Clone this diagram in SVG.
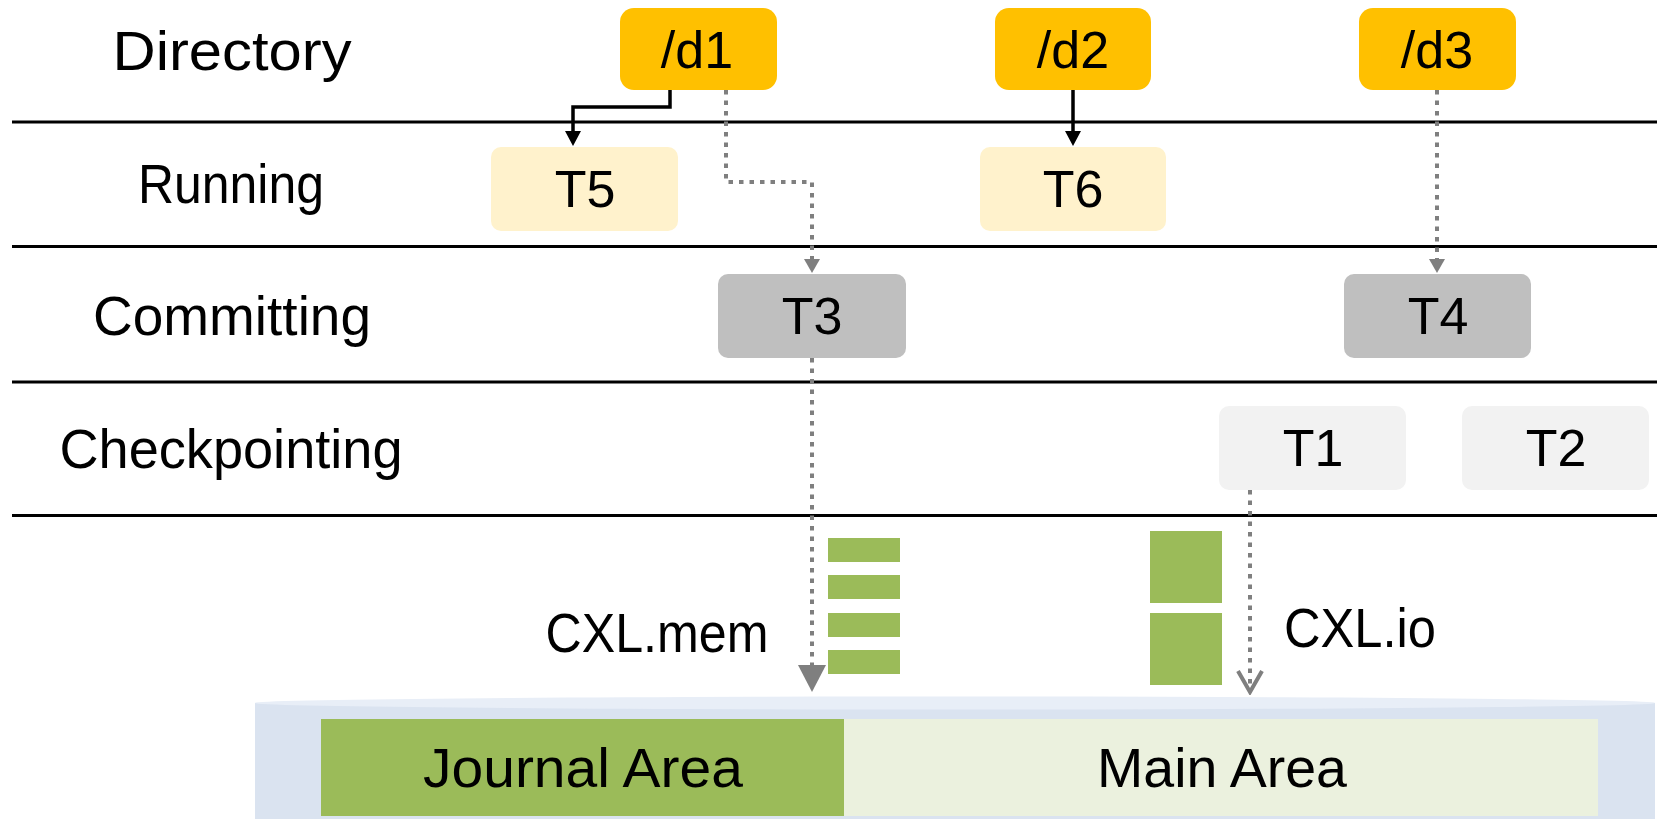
<svg xmlns="http://www.w3.org/2000/svg" width="1657" height="819" viewBox="0 0 1657 819">
  <style>
    text { font-family: "Liberation Sans", Arial, sans-serif; fill: #000; }
    .lbl { font-size: 56px; text-anchor: middle; }
    .nt { font-size: 52px; text-anchor: middle; }
    .sep { stroke: #000; stroke-width: 3; }
    .dir { fill: #FFC000; }
    .run { fill: #FFF2CC; }
    .com { fill: #BFBFBF; }
    .chk { fill: #F2F2F2; }
    .blk { fill: #9BBB59; }
    .solid { fill: none; stroke: #000; stroke-width: 3.5; }
    .dot { fill: none; stroke: #7F7F7F; stroke-width: 4; stroke-dasharray: 4.5 6; }
  </style>
  <defs>
    <marker id="arrowBlack" markerUnits="userSpaceOnUse" viewBox="0 0 15 16" markerWidth="15" markerHeight="16" refX="1" refY="8" orient="auto">
      <path d="M0,0 L15,8 L0,16 z" fill="#000"/>
    </marker>
    <marker id="arrowGray" markerUnits="userSpaceOnUse" viewBox="0 0 14 16" markerWidth="14" markerHeight="16" refX="1" refY="8" orient="auto">
      <path d="M0,0 L14,8 L0,16 z" fill="#7F7F7F"/>
    </marker>
    <marker id="arrowGrayBig" markerUnits="userSpaceOnUse" viewBox="0 0 27 28" markerWidth="27" markerHeight="28" refX="1" refY="14" orient="auto">
      <path d="M0,0 L27,14 L0,28 z" fill="#7F7F7F"/>
    </marker>
    <marker id="arrowOpen" markerUnits="userSpaceOnUse" viewBox="-3 -3 27 30" markerWidth="27" markerHeight="30" refX="21" refY="12" orient="auto">
      <path d="M0,0 L21,12 L0,24" fill="none" stroke="#7F7F7F" stroke-width="4" stroke-dasharray="none"/>
    </marker>
  </defs>

  <!-- lane separators -->
  <g id="lanes">
    <line class="sep" x1="12" y1="122" x2="1657" y2="122"/>
    <line class="sep" x1="12" y1="246.5" x2="1657" y2="246.5"/>
    <line class="sep" x1="12" y1="382" x2="1657" y2="382"/>
    <line class="sep" x1="12" y1="515.5" x2="1657" y2="515.5"/>
  </g>

  <!-- lane titles -->
  <g id="lane-labels">
    <text class="lbl" x="232" y="70" textLength="239" lengthAdjust="spacingAndGlyphs">Directory</text>
    <text class="lbl" x="231" y="203" textLength="186" lengthAdjust="spacingAndGlyphs">Running</text>
    <text class="lbl" x="232" y="335" textLength="278" lengthAdjust="spacingAndGlyphs">Committing</text>
    <text class="lbl" x="231" y="468" textLength="343" lengthAdjust="spacingAndGlyphs">Checkpointing</text>
  </g>

  <!-- storage device -->
  <g id="device">
    <rect x="255" y="703" width="1400" height="120" fill="#DAE3F0"/>
    <ellipse cx="955" cy="703" rx="700" ry="6.5" fill="#E8EEF7"/>
  </g>
  <g id="journal-area">
    <rect x="321" y="719" width="523" height="97" class="blk"/>
    <text class="lbl" x="583" y="787" textLength="320" lengthAdjust="spacingAndGlyphs">Journal Area</text>
  </g>
  <g id="main-area">
    <rect x="844" y="719" width="754" height="97" fill="#EBF1DE"/>
    <text class="lbl" x="1222" y="787" textLength="250" lengthAdjust="spacingAndGlyphs">Main Area</text>
  </g>

  <!-- directories -->
  <g id="d1">
    <rect class="dir" x="620" y="8" width="157" height="82" rx="14"/>
    <text class="nt" x="697" y="68">/d1</text>
  </g>
  <g id="d2">
    <rect class="dir" x="995" y="8" width="156" height="82" rx="14"/>
    <text class="nt" x="1073" y="68">/d2</text>
  </g>
  <g id="d3">
    <rect class="dir" x="1359" y="8" width="157" height="82" rx="14"/>
    <text class="nt" x="1437" y="68">/d3</text>
  </g>

  <!-- transactions -->
  <g id="T5">
    <rect class="run" x="491" y="147" width="187" height="84" rx="10"/>
    <text class="nt" x="585" y="207">T5</text>
  </g>
  <g id="T6">
    <rect class="run" x="980" y="147" width="186" height="84" rx="10"/>
    <text class="nt" x="1073" y="207">T6</text>
  </g>
  <g id="T3">
    <rect class="com" x="718" y="274" width="188" height="84" rx="10"/>
    <text class="nt" x="812" y="334">T3</text>
  </g>
  <g id="T4">
    <rect class="com" x="1344" y="274" width="187" height="84" rx="10"/>
    <text class="nt" x="1438" y="334">T4</text>
  </g>
  <g id="T1">
    <rect class="chk" x="1219" y="406" width="187" height="84" rx="10"/>
    <text class="nt" x="1313" y="466">T1</text>
  </g>
  <g id="T2">
    <rect class="chk" x="1462" y="406" width="187" height="84" rx="10"/>
    <text class="nt" x="1556" y="466">T2</text>
  </g>

  <!-- in-flight data blocks -->
  <g id="mem-blocks">
    <rect class="blk" x="828" y="538" width="72" height="24"/>
    <rect class="blk" x="828" y="575" width="72" height="24"/>
    <rect class="blk" x="828" y="613" width="72" height="24"/>
    <rect class="blk" x="828" y="650" width="72" height="24"/>
    <text class="lbl" x="657" y="652" textLength="223" lengthAdjust="spacingAndGlyphs">CXL.mem</text>
  </g>
  <g id="io-blocks">
    <rect class="blk" x="1150" y="531" width="72" height="72"/>
    <rect class="blk" x="1150" y="613" width="72" height="72"/>
    <text class="lbl" x="1360" y="647" textLength="152" lengthAdjust="spacingAndGlyphs">CXL.io</text>
  </g>

  <!-- connectors -->
  <g id="connectors">
    <path class="solid" d="M670,90 V107 H573 V132" marker-end="url(#arrowBlack)"/>
    <path class="solid" d="M1073,90 V132" marker-end="url(#arrowBlack)"/>
    <path class="dot" d="M726,90 V182 H812 V260" marker-end="url(#arrowGray)"/>
    <path class="dot" d="M1437,90 V260" marker-end="url(#arrowGray)"/>
    <path class="dot" d="M812,358 V666" marker-end="url(#arrowGrayBig)"/>
    <path class="dot" d="M1250,490 V692" marker-end="url(#arrowOpen)"/>
  </g>
</svg>
